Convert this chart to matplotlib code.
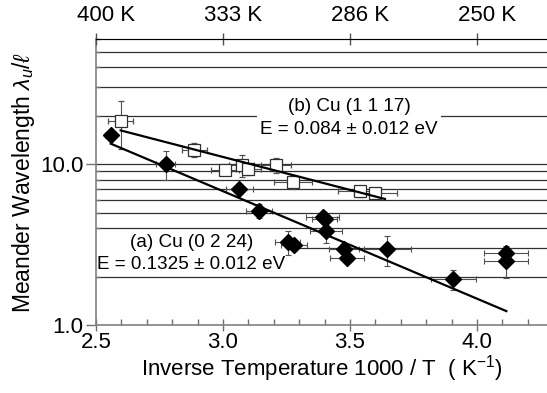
import matplotlib
matplotlib.use("Agg")
import matplotlib.pyplot as plt
import matplotlib.transforms as mtransforms
import numpy as np

plt.rcParams["font.family"] = ["Liberation Sans", "DejaVu Sans"]
plt.rcParams["mathtext.fontset"] = "custom"
plt.rcParams["mathtext.rm"] = "Liberation Sans"
plt.rcParams["mathtext.it"] = "Liberation Sans:italic"

# (a) Cu (0 2 24) -- filled diamonds
a_x = [2.558, 2.774, 3.064, 3.142, 3.392, 3.400, 3.406, 3.255, 3.280, 3.476, 3.490, 3.647, 3.907, 4.116, 4.116]
a_y = [15.2, 10.0, 7.0, 5.14, 4.72, 4.57, 3.82, 3.27, 3.16, 2.98, 2.62, 2.96, 1.93, 2.82, 2.50]
a_xerr = [0.022, 0.037, 0.054, 0.052, 0.066, 0.05, 0.062, 0.05, 0.05, 0.06, 0.067, 0.093, 0.089, 0.087, 0.087]
a_yerr = [0.8, 2.0, 0.5, 0.5, 0.3, 0.3, 0.6, 0.55, 0.2, 0.2, 0.2, 0.64, 0.27, 0.3, 0.55]

# (b) Cu (1 1 17) -- open squares
b_x = [2.597, 2.887, 3.008, 3.073, 3.100, 3.209, 3.274, 3.539, 3.600]
b_y = [18.5, 12.3, 9.22, 9.86, 9.3, 9.86, 7.77, 6.77, 6.6]
b_xerr = [0.05, 0.05, 0.056, 0.05, 0.05, 0.06, 0.075, 0.085, 0.085]
b_yerr = [6.0, 1.2, 0.5, 1.5, 0.8, 1.1, 0.8, 0.5, 0.3]

# Arrhenius fit lines (end points)
fit_a_x = [2.558, 4.116]
fit_a_y = [13.4, 1.22]
fit_b_x = [2.597, 3.638]
fit_b_y = [16.2, 6.07]

top_ticks = [2.5, 3.0, 3.5, 4.0]
top_labels = ["400 K", "333 K", "286 K", "250 K"]
grid_vals = [2, 3, 4, 5, 6, 7, 8, 9, 10, 20, 30, 40, 50]

fig = plt.figure(figsize=(5.47, 3.93), dpi=100)
ax = fig.add_axes([0.1755, 0.173, 0.8245, 0.728])
ax.set_yscale("log")
ax.set_xlim(2.5, 4.276)
ax.set_ylim(1.0, 60)

for g in grid_vals:
    ax.axhline(g, color="#303030", lw=0.9, zorder=0)

err_kw = dict(ecolor="#505050", elinewidth=0.8, capsize=2.5, capthick=0.8, ls="none")
ax.errorbar(b_x, b_y, xerr=b_xerr, yerr=b_yerr, marker="s", ms=8, mfc="white",
            mec="#303030", mew=0.9, zorder=3, **err_kw)
ax.errorbar(a_x, a_y, xerr=a_xerr, yerr=a_yerr, marker="D", ms=8, mfc="black",
            mec="black", zorder=4, **err_kw)
ax.plot(fit_a_x, fit_a_y, color="black", lw=1.6, zorder=5)
ax.plot(fit_b_x, fit_b_y, color="black", lw=1.6, zorder=5)

box = dict(facecolor="white", edgecolor="none", pad=2)
ax.text(3.496, 19.3, "(b) Cu (1 1 17)\nE = 0.084 \u00b1 0.012 eV", ha="center", va="center",
        fontsize=13.6, linespacing=1.45, bbox=box, zorder=2)
ax.text(2.875, 2.79, "(a) Cu (0 2 24)\nE = 0.1325 \u00b1 0.012 eV", ha="center", va="center",
        fontsize=13.6, linespacing=1.35, bbox=box, zorder=2)

ax.set_xticks([2.5, 3.0, 3.5, 4.0])
ax.set_xticklabels(["2.5", "3.0", "3.5", "4.0"])
ax.set_xticks(np.arange(2.6, 4.3, 0.1), minor=True)
ax.set_yticks([1, 10])
ax.set_yticklabels(["1.0", "10.0"])
ax.tick_params(axis="x", which="major", direction="inout", length=8, width=1, color="#707070", labelsize=16, pad=1)
ax.tick_params(axis="x", which="minor", direction="in", length=4, width=1, color="#707070")
ax.tick_params(axis="y", which="major", direction="out", length=7, width=1, color="#707070", labelsize=16, pad=2)
ax.tick_params(axis="y", which="minor", direction="in", length=3, width=1, color="#707070", labelleft=False)

for s in ["left", "bottom"]:
    ax.spines[s].set_color("#808080")
    ax.spines[s].set_linewidth(1.2)
ax.spines["right"].set_visible(False)
ax.spines["top"].set_color("#505050")

ax.set_xlabel("Inverse Temperature 1000 / T  ( K$^{-1}$)", fontsize=16, labelpad=0)
ax.set_ylabel(r"Meander Wavelength $\lambda_u / \ell$", fontsize=16.5, labelpad=2)

top = ax.twiny()
top.set_xlim(ax.get_xlim())
top.set_xticks(top_ticks)
top.set_xticklabels(top_labels)
top.tick_params(axis="x", direction="inout", length=8, width=1, color="#505050", labelsize=16, pad=5)
top.spines["right"].set_visible(False)
top.spines["left"].set_visible(False)
top.spines["bottom"].set_visible(False)
# the Kelvin labels sit a little right of their ticks in the original
shift = mtransforms.ScaledTranslation(0.10, 0, fig.dpi_scale_trans)
for lbl in top.get_xticklabels():
    lbl.set_transform(lbl.get_transform() + shift)

fig.savefig("out.png", dpi=100)
